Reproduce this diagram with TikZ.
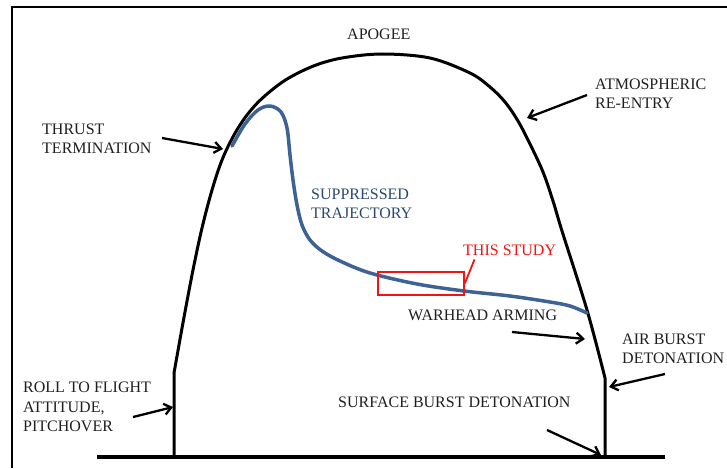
\documentclass[tikz,border=0pt]{standalone}
\usepackage{fontspec}
\setmainfont{Liberation Serif}
\usetikzlibrary{arrows.meta}
\definecolor{trajblue}{RGB}{62,98,148}
\definecolor{trajtext}{RGB}{44,72,112}
\definecolor{studyred}{RGB}{240,20,20}
\begin{document}
\begin{tikzpicture}[x=1pt,y=-1pt,
  lbl/.style={anchor=base west,inner sep=0pt,font=\fontsize{16}{19}\selectfont,text=black!88},
  arch/.style={line width=3pt,line join=round},
  traj/.style={line width=3.5pt,color=trajblue,line cap=round},
  pointer/.style={line width=2.3pt,-{Straight Barb[length=7pt,width=11pt,line width=2.3pt]}},
]
\useasboundingbox (0,0) rectangle (727,468);
% frame
\draw[line width=2pt] (12,468) -- (12,7.5) -- (727,7.5);
% ground
\draw[line width=3.2pt] (97,457) -- (665,457);
% ballistic arch
\draw[arch] (174,457) -- (174,373) -- plot[smooth,tension=0.55] coordinates {
  (174,373) (183.5,320) (193,270) (202,228) (212,190) (222,160) (234,135)
  (247,115) (262.5,98) (285.5,80) (313.5,66) (342,58) (382,54) (430,58)
  (470,73) (490,87) (505,102) (518,121) (530,144) (543,172) (553,201)
  (562,231) (587,310) (605,378)}
  -- (605,457);
% suppressed trajectory
\draw[traj] plot[smooth,tension=0.55] coordinates {
  (232,146) (245,124) (258,110) (270,106) (281,112) (287,128) (290,155)
  (293,180) (297,205) (302,225) (310,240) (322,251) (340,261) (370,273)
  (417,284) (464,291) (510,296) (550,302) (570,306) (587,313)};
% this study box
\node[draw=studyred,line width=1.8pt,minimum width=86pt,minimum height=23pt,
  inner sep=0pt,anchor=north west] (box) at (377,271) {};
\coordinate (studytip) at (474.5,259.5);
\draw[studyred,line width=1.8pt] (box.east) -- (studytip);
% labels
\node[lbl] (apogee) at (347,40) {APOGEE};
\node[lbl] (thrust1) at (42,134) {THRUST};
\node[lbl] (thrust2) at (42,153) {TERMINATION};
\node[lbl] (atmo1) at (595,90) {ATMOSPHERIC};
\node[lbl] (atmo2) at (595,109) {RE-ENTRY};
\node[lbl,text=trajtext] (supp1) at (311,199) {SUPPRESSED};
\node[lbl,text=trajtext] (supp2) at (311,218) {TRAJECTORY};
\node[lbl,text=studyred] (study) at (463,255) {THIS STUDY};
\node[lbl] (arming) at (408,320) {WARHEAD ARMING};
\node[lbl] (air1) at (622,344) {AIR BURST};
\node[lbl] (air2) at (622,363) {DETONATION};
\node[lbl] (surface) at (338,407) {SURFACE BURST DETONATION};
\node[lbl] (roll1) at (23,392) {ROLL TO FLIGHT};
\node[lbl] (roll2) at (23,412) {ATTITUDE,};
\node[lbl] (roll3) at (23,431) {PITCHOVER};
% arrow ends
\coordinate (thrustA) at (162,138);  \coordinate (thrustB) at (223,149);
\coordinate (reentA) at (587,95);    \coordinate (reentB) at (527,118);
\coordinate (armA) at (512,332);     \coordinate (armB) at (585,339);
\coordinate (airA) at (665,374);     \coordinate (airB) at (609,387);
\coordinate (surfA) at (547,430);    \coordinate (surfB) at (601,455);
\coordinate (rollA) at (133,417);    \coordinate (rollB) at (173,407);
\draw[pointer] (thrustA) -- (thrustB);
\draw[pointer] (reentA) -- (reentB);
\draw[pointer] (armA) -- (armB);
\draw[pointer] (airA) -- (airB);
\draw[pointer] (surfA) -- (surfB);
\draw[pointer] (rollA) -- (rollB);
\end{tikzpicture}
\end{document}
